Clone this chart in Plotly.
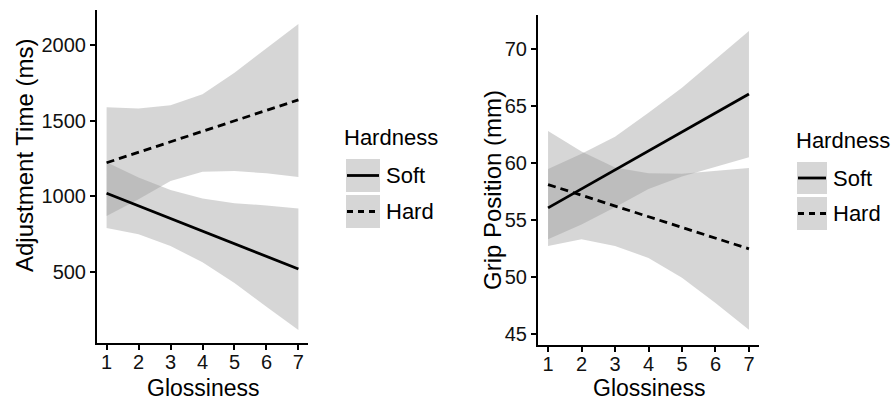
import plotly.graph_objects as go

# ---------------- data ----------------
GLOSS = [1, 2, 3, 4, 5, 6, 7]
LINE_X = [1, 7]
HARDNESS = ["Soft", "Hard"]

# Left panel: Adjustment Time (ms)
adj_soft_line = [1020, 520]
adj_hard_line = [1222, 1637]
adj_soft_upper = [1225, 1125, 1042, 985, 955, 940, 920]
adj_soft_lower = [790, 749, 672, 564, 427, 270, 117]
adj_hard_upper = [1588, 1581, 1601, 1674, 1817, 1980, 2139]
adj_hard_lower = [870, 980, 1101, 1162, 1167, 1152, 1128]

# Right panel: Grip Position (mm)
grip_soft_line = [56.05, 66.05]
grip_hard_line = [58.1, 52.45]
grip_soft_upper = [59.47, 60.8, 62.3, 64.4, 66.6, 69.1, 71.6]
grip_soft_lower = [53.3, 54.6, 56.1, 57.7, 58.8, 59.65, 60.5]
grip_hard_upper = [62.8, 61.0, 59.6, 59.1, 59.05, 59.3, 59.56]
grip_hard_lower = [52.7, 53.3, 52.7, 51.65, 49.9, 47.7, 45.35]

X_TICKS = [1, 2, 3, 4, 5, 6, 7]
ADJ_TICKS = [500, 1000, 1500, 2000]
GRIP_TICKS = [45, 50, 55, 60, 65, 70]

# ---------------- style ----------------
W, H = 893, 400
FONT = "Liberation Sans, Arial, Helvetica, sans-serif"
RIBBON = "rgba(153,153,153,0.4)"
KEYFILL = "#d6d6d6"
LW = 2.8
DASH = "8px,5px"


def px(x):
    return x / W


def py(y):
    return 1 - y / H


fig = go.Figure()


def ribbon(upper, lower, xa, ya):
    fig.add_trace(go.Scatter(
        x=GLOSS + GLOSS[::-1], y=upper + lower[::-1],
        fill="toself", fillcolor=RIBBON, line=dict(width=0),
        mode="lines", showlegend=False, hoverinfo="skip",
        xaxis=xa, yaxis=ya))


def fitline(vals, dash, name, xa, ya):
    fig.add_trace(go.Scatter(
        x=LINE_X, y=vals, mode="lines", name=name,
        line=dict(color="black", width=LW, dash=dash),
        showlegend=False, xaxis=xa, yaxis=ya))


ribbon(adj_soft_upper, adj_soft_lower, "x", "y")
ribbon(adj_hard_upper, adj_hard_lower, "x", "y")
fitline(adj_soft_line, "solid", HARDNESS[0], "x", "y")
fitline(adj_hard_line, DASH, HARDNESS[1], "x", "y")

ribbon(grip_soft_upper, grip_soft_lower, "x2", "y2")
ribbon(grip_hard_upper, grip_hard_lower, "x2", "y2")
fitline(grip_soft_line, "solid", HARDNESS[0], "x2", "y2")
fitline(grip_hard_line, DASH, HARDNESS[1], "x2", "y2")

axis_common = dict(
    showgrid=False, zeroline=False, showline=True, linecolor="black",
    linewidth=2, ticks="outside", ticklen=5, tickwidth=2, tickcolor="black",
    tickfont=dict(family=FONT, size=20, color="#111111"), automargin=False,
)

fig.update_layout(
    width=W, height=H,
    margin=dict(l=0, r=0, t=0, b=0),
    paper_bgcolor="white", plot_bgcolor="white",
    showlegend=False,
    xaxis=dict(domain=[px(97), px(308)], range=[0.7, 7.3], tickvals=X_TICKS,
               anchor="y", ticklabelstandoff=-5, **axis_common),
    yaxis=dict(domain=[py(343), py(10)], range=[31, 2231], tickvals=ADJ_TICKS,
               anchor="x", **axis_common),
    xaxis2=dict(domain=[px(538), px(759)], range=[0.7, 7.3], tickvals=X_TICKS,
                anchor="y2", ticklabelstandoff=-5, **axis_common),
    yaxis2=dict(domain=[py(345), py(15)], range=[44.0, 73.0], tickvals=GRIP_TICKS,
                anchor="x2", **axis_common),
)

annotations = []
shapes = []


def title(text, x, y, angle):
    annotations.append(dict(text=text, x=px(x), y=py(y),
                            xref="paper", yref="paper", textangle=angle, showarrow=False,
                            xanchor="center", yanchor="middle",
                            font=dict(family=FONT, size=24 if angle else 23, color="black")))


# axis titles
title("Adjustment Time (ms)", 24, 156, -90)
title("Grip Position (mm)", 492, 190, -90)
title("Glossiness", 203, 388, 0)
title("Glossiness", 649, 388, 0)


def legend(title_x, title_y, box_x0, box_x1, rows, label_x):
    annotations.append(dict(text="Hardness", x=px(title_x), y=py(title_y),
                            xref="paper", yref="paper", showarrow=False,
                            xanchor="left", yanchor="middle",
                            font=dict(family=FONT, size=22, color="black")))
    for name, (y0, y1), dash in zip(HARDNESS, rows, ["solid", "6px,5px"]):
        shapes.append(dict(type="rect", xref="paper", yref="paper",
                           x0=px(box_x0), x1=px(box_x1), y0=py(y1), y1=py(y0),
                           fillcolor=KEYFILL, line=dict(width=0), layer="below"))
        ym = (y0 + y1) / 2
        shapes.append(dict(type="line", xref="paper", yref="paper",
                           x0=px(box_x0 + 1), x1=px(box_x1 - 1), y0=py(ym), y1=py(ym),
                           line=dict(color="black", width=LW, dash=dash)))
        annotations.append(dict(text=name, x=px(label_x), y=py(ym),
                                xref="paper", yref="paper", showarrow=False,
                                xanchor="left", yanchor="middle",
                                font=dict(family=FONT, size=22, color="black")))


legend(342, 137, 346, 380, [(159, 192), (195, 228)], 384)
legend(794, 140, 797, 827, [(162, 194), (197, 230)], 831)

fig.update_layout(annotations=annotations, shapes=shapes)

fig.write_html("out.html")
